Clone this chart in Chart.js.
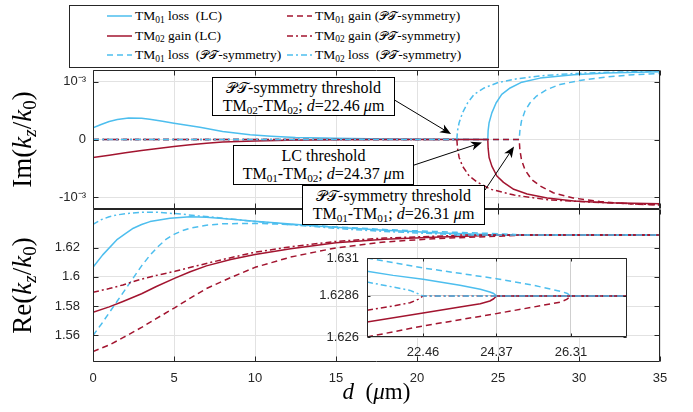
<!DOCTYPE html>
<html>
<head>
<meta charset="utf-8">
<script src="https://cdn.jsdelivr.net/npm/chart.js@4.4.1/dist/chart.umd.min.js"></script>
<style>
  html, body { margin:0; padding:0; background:#fff; }
  #wrap { position:relative; width:693px; height:412px; overflow:hidden; background:#fff; }
  #wrap canvas { position:absolute; left:0; top:0; }
  .serif { font-family:'Liberation Serif','Times New Roman',serif; color:#000; }
  #legend { position:absolute; left:69px; top:5px; width:430px; height:63px; border:1px solid #262626; box-sizing:border-box; background:#fff; }
  .li { position:absolute; height:18px; white-space:nowrap; font-size:13.5px; line-height:18px; }
  .li svg { position:absolute; left:0; top:0; }
  .li .lt { position:absolute; left:28px; top:0; }
  .ann { position:absolute; background:#fff; border:1px solid #000; box-sizing:border-box; font-size:16px; line-height:18px; text-align:center; display:flex; flex-direction:column; justify-content:center; white-space:nowrap; }
  sub { font-size:70%; vertical-align:baseline; position:relative; top:0.3em; line-height:0; }
  .pt { font-family:'DejaVu Serif','DejaVu Sans','Noto Sans','Liberation Serif',serif; font-size:92%; }
</style>
</head>
<body>
<div id="wrap">
  <canvas id="cRe" width="693" height="412"></canvas>
  <canvas id="cIn" width="693" height="412"></canvas>
  <canvas id="cIm" width="693" height="412"></canvas>
  <div id="legend"></div>
</div>
<script>
// ---------------- DATA ----------------
// x: d (µm)
const xTickStep = 5;
const xRange = [0, 35];

// Im(kz/k0) panel: [d, Im]
const imLossLC   = [[0,0.20e-3],[0.5,0.26e-3],[1,0.31e-3],[1.5,0.345e-3],[2.2,0.37e-3],[3,0.365e-3],[3.5,0.35e-3],[4.2,0.32e-3],[5,0.28e-3],[5.8,0.245e-3],[6.6,0.21e-3],[8,0.14e-3],[9.7,0.08e-3],[11,0.055e-3],[12.5,0.035e-3],[15,0.02e-3],[18,0.01e-3],[21,0.003e-3],[24.37,0],[24.39,0.15e-3],[24.45,0.29e-3],[24.62,0.46e-3],[24.88,0.63e-3],[25.23,0.78e-3],[25.75,0.89e-3],[26.47,0.99e-3],[27.6,1.06e-3],[29.66,1.12e-3],[31.72,1.15e-3],[35,1.17e-3]];
const imGainLC   = [[0,-0.31e-3],[1,-0.27e-3],[2,-0.23e-3],[3,-0.19e-3],[4,-0.155e-3],[5,-0.12e-3],[6,-0.09e-3],[7,-0.065e-3],[8,-0.045e-3],[10,-0.025e-3],[12,-0.012e-3],[15,-0.004e-3],[18,0],[24.37,0],[24.39,-0.15e-3],[24.45,-0.31e-3],[24.62,-0.46e-3],[24.93,-0.63e-3],[25.34,-0.74e-3],[25.97,-0.86e-3],[26.8,-0.94e-3],[28.03,-1.01e-3],[29.68,-1.06e-3],[31.74,-1.09e-3],[35,-1.11e-3]];
const imLossPT01 = [[0,0],[26.31,0],[26.35,0.15e-3],[26.45,0.32e-3],[26.66,0.49e-3],[26.97,0.63e-3],[27.38,0.75e-3],[28.0,0.86e-3],[28.82,0.95e-3],[30.05,1.02e-3],[31.7,1.08e-3],[33.35,1.12e-3],[35,1.14e-3]];
const imGainPT01 = [[0,0],[26.31,0],[26.35,-0.18e-3],[26.45,-0.35e-3],[26.66,-0.52e-3],[27.07,-0.69e-3],[27.59,-0.8e-3],[28.41,-0.92e-3],[29.64,-1.01e-3],[31.29,-1.07e-3],[32.94,-1.11e-3],[35,-1.13e-3]];
const imGainPT02 = [[0,0],[22.46,0],[22.5,-0.15e-3],[22.6,-0.31e-3],[22.81,-0.46e-3],[23.22,-0.63e-3],[23.74,-0.74e-3],[24.56,-0.86e-3],[26.0,-0.96e-3],[28.06,-1.04e-3],[30.73,-1.08e-3],[35,-1.13e-3]];
const imLossPT02 = [[0,0],[22.46,0],[22.5,0.15e-3],[22.6,0.29e-3],[22.81,0.46e-3],[23.12,0.63e-3],[23.53,0.78e-3],[24.15,0.89e-3],[24.97,0.98e-3],[26.2,1.05e-3],[27.65,1.10e-3],[29.7,1.14e-3],[31.76,1.16e-3],[35,1.18e-3]];
const imRange = [-1.2e-3, 1.2e-3];
const imTickValues = [-1e-3, 0, 1e-3];
const imTickLabels = ['-10\u207B\u00B3', '0', '10\u207B\u00B3'];

// Re(kz/k0) panel: [d, Re]
const reLossLC   = [[0,1.6065],[0.6,1.615],[1.46,1.6252],[2.0,1.6295],[2.49,1.6332],[3.0,1.6357],[3.52,1.6377],[4.75,1.64],[6,1.641],[7,1.6406],[8,1.6398],[10,1.638],[12,1.6362],[14,1.6346],[16,1.6331],[18,1.6318],[20,1.6307],[21,1.63016],[22.46,1.62965],[23.42,1.62927],[23.95,1.62902],[24.2,1.62885],[24.37,1.6286],[35,1.6286]];
const reGainLC   = [[0,1.5759],[1,1.5795],[1.85,1.5832],[3,1.5885],[3.91,1.5934],[5.06,1.5991],[6,1.6035],[7,1.6075],[8.5,1.6118],[10,1.6152],[12.2,1.6192],[15,1.6232],[18,1.6256],[21,1.62695],[22.46,1.62752],[23.42,1.6279],[23.95,1.62811],[24.2,1.62828],[24.37,1.6286],[35,1.6286]];
const reLossPT01 = [[0,1.56],[0.5,1.5675],[1,1.5755],[1.5,1.5835],[2,1.5915],[2.5,1.5995],[3,1.6075],[3.5,1.6145],[4,1.6205],[4.5,1.6255],[5,1.629],[5.5,1.6315],[6,1.6332],[7,1.6352],[8,1.6362],[10,1.6365],[12,1.6358],[14,1.6347],[16,1.6335],[18,1.6323],[20,1.6314],[21,1.631],[22.46,1.63037],[24.37,1.62969],[25.34,1.62927],[26.04,1.62889],[26.2,1.62877],[26.31,1.6286],[35,1.6286]];
const reGainPT01 = [[0,1.5491],[1,1.5535],[1.85,1.5585],[3,1.5655],[3.9,1.5715],[5.06,1.579],[6,1.5855],[7,1.592],[8.5,1.5995],[10,1.6065],[12.2,1.6135],[15,1.6198],[18,1.6238],[21,1.626],[22.46,1.6267],[24.37,1.62748],[25.34,1.6279],[26.04,1.62821],[26.2,1.62838],[26.31,1.6286],[35,1.6286]];
const reGainPT02 = [[0,1.5895],[1,1.592],[1.85,1.5945],[3,1.5985],[4,1.6012],[5.06,1.6038],[6.5,1.6078],[8,1.6118],[10,1.6168],[12.2,1.6205],[15,1.6242],[18,1.6265],[20,1.6273],[21,1.62769],[21.68,1.62796],[22.12,1.62817],[22.33,1.62838],[22.46,1.6286],[35,1.6286]];
const reLossPT02 = [[0,1.6359],[0.5,1.639],[1,1.641],[1.5,1.6423],[2.26,1.6434],[3,1.644],[3.91,1.6441],[5,1.6432],[5.56,1.6427],[6.5,1.6416],[7.6,1.6405],[10,1.6378],[12,1.6358],[14,1.634],[16,1.6323],[18,1.631],[20,1.63],[21,1.62948],[21.68,1.62916],[22.12,1.62895],[22.33,1.62874],[22.46,1.6286],[35,1.6286]];
const reRange = [1.5419, 1.6463];
const reTickValues = [1.56, 1.58, 1.6, 1.62];
const reTickLabels = ['1.56', '1.58', '1.6', '1.62'];

// Inset (zoom near thresholds): [d, Re]
const inLossLC   = [[21,1.63016],[21.68,1.6299],[22.46,1.62965],[23.42,1.62927],[23.95,1.62902],[24.2,1.62885],[24.3,1.62875],[24.37,1.6286],[27.77,1.6286]];
const inGainLC   = [[21,1.62695],[22.46,1.62752],[23.42,1.6279],[23.95,1.62811],[24.2,1.62828],[24.3,1.62842],[24.37,1.6286],[27.77,1.6286]];
const inLossPT01 = [[21,1.631],[22.46,1.63037],[24.37,1.62969],[25.34,1.62927],[26.04,1.62889],[26.2,1.62877],[26.31,1.6286],[27.77,1.6286]];
const inGainPT01 = [[21,1.626],[22.46,1.6267],[24.37,1.62748],[25.34,1.6279],[26.04,1.62821],[26.2,1.62838],[26.31,1.6286],[27.77,1.6286]];
const inGainPT02 = [[21,1.62769],[21.68,1.62796],[22.12,1.62817],[22.33,1.62838],[22.46,1.6286],[27.77,1.6286]];
const inLossPT02 = [[21,1.62948],[21.68,1.62916],[22.12,1.62895],[22.33,1.62874],[22.46,1.6286],[27.77,1.6286]];
const inXRange = [21.0, 27.77];
const inYRange = [1.626, 1.631];
const inXTickValues = [22.46, 24.37, 26.31];
const inXTickLabels = ['22.46', '24.37', '26.31'];
const inYTickValues = [1.626, 1.6286, 1.631];
const inYTickLabels = ['1.626', '1.6286', '1.631'];

// Legend labels (series order)
const seriesLabels = ['TM01 loss (LC)', 'TM02 gain (LC)', 'TM01 loss (PT-symmetry)', 'TM01 gain (PT-symmetry)', 'TM02 gain (PT-symmetry)', 'TM02 loss (PT-symmetry)'];
const PT = '<span class="pt">\uD835\uDCAB\uD835\uDCAF</span>';
const legendHtml = [
  'TM<sub>01</sub> loss&nbsp;&nbsp;(LC)',
  'TM<sub>02</sub> gain (LC)',
  'TM<sub>01</sub> loss&nbsp;&nbsp;(' + PT + '-symmetry)',
  'TM<sub>01</sub> gain (' + PT + '-symmetry)',
  'TM<sub>02</sub> gain (' + PT + '-symmetry)',
  'TM<sub>02</sub> loss&nbsp;&nbsp;(' + PT + '-symmetry)'
];

// Annotations: text lines, arrow tails / tips in data coords [d, Im]
const annLines = [
  [PT + '-symmetry threshold', 'TM<sub>02</sub>-TM<sub>02</sub>; <i>d</i>=22.46 <i>\u03BC</i>m'],
  ['LC threshold', 'TM<sub>01</sub>-TM<sub>02</sub>; <i>d</i>=24.37 <i>\u03BC</i>m'],
  [PT + '-symmetry threshold', 'TM<sub>01</sub>-TM<sub>01</sub>; <i>d</i>=26.31 <i>\u03BC</i>m']
];
const arrowTails = [[18.64, 0.677e-3], [19.77, -0.446e-3], [24.2, -0.872e-3]];
const arrowTips  = [[22.1, 0.095e-3], [24.01, -0.052e-3], [25.99, -0.121e-3]];

// ---------------- STYLE ----------------
Chart.defaults.font.family = "'Liberation Sans', Arial, Helvetica, sans-serif";
Chart.defaults.font.size = 13;
Chart.defaults.color = '#262626';
const BLUE = '#4DBEEE', RED = '#A2142F';
const GRID = '#e2e2e2', FRAME = '#262626';
const SOLID = [], DASH = [6, 4], DASHDOT = [6, 3, 2, 3];
const seriesStyle = [
  {c: BLUE, dash: SOLID, order: 5},
  {c: RED, dash: SOLID, order: 4},
  {c: BLUE, dash: DASH, order: 3},
  {c: RED, dash: DASH, order: 2},
  {c: RED, dash: DASHDOT, order: 1},
  {c: BLUE, dash: DASHDOT, order: 0}
];
const toXY = a => a.map(p => ({x: p[0], y: p[1]}));
function makeDatasets(list) {
  return list.map((arr, i) => ({
    label: seriesLabels[i], data: toXY(arr), showLine: true,
    borderColor: seriesStyle[i].c, backgroundColor: seriesStyle[i].c,
    borderWidth: 1.5, borderDash: seriesStyle[i].dash, order: seriesStyle[i].order,
    pointRadius: 0, pointHoverRadius: 0, fill: false, tension: 0,
    borderCapStyle: 'butt', borderJoinStyle: 'round'
  }));
}

function framePlugin(color, tick) {
  return {
    id: 'frame',
    afterDatasetsDraw(chart) {
      const {ctx, chartArea: a, scales} = chart;
      const L = Math.round(a.left) + 0.5, R = Math.round(a.right) - 0.5, T = Math.round(a.top) + 0.5, B = Math.round(a.bottom) - 0.5;
      ctx.save();
      ctx.strokeStyle = color; ctx.lineWidth = 1; ctx.setLineDash([]);
      ctx.beginPath();
      ctx.rect(L, T, R - L, B - T);
      scales.x.ticks.forEach(t => {
        const p = Math.round(scales.x.getPixelForValue(t.value)) + 0.5;
        ctx.moveTo(p, B); ctx.lineTo(p, B - tick); ctx.moveTo(p, T); ctx.lineTo(p, T + tick);
      });
      scales.y.ticks.forEach(t => {
        const p = Math.round(scales.y.getPixelForValue(t.value)) + 0.5;
        ctx.moveTo(L, p); ctx.lineTo(L + tick, p); ctx.moveTo(R, p); ctx.lineTo(R - tick, p);
      });
      ctx.stroke();
      ctx.restore();
    }
  };
}
const whiteBg = {
  id: 'whiteBg',
  beforeDraw(chart) {
    const {ctx, chartArea: a} = chart;
    ctx.save(); ctx.fillStyle = '#fff'; ctx.fillRect(a.left, a.top, a.width, a.height); ctx.restore();
  }
};

const SERIF = "'Liberation Serif', 'Times New Roman', serif";
function drawRich(ctx, parts, cx, cy, rot, size) {
  ctx.save();
  ctx.translate(cx, cy); ctx.rotate(rot);
  const fontOf = s => (s.indexOf('i') >= 0 ? 'italic ' : '') + (s.indexOf('s') >= 0 ? Math.round(size * 0.7) : size) + 'px ' + SERIF;
  let total = 0;
  const w = parts.map(p => { ctx.font = fontOf(p[1]); const m = ctx.measureText(p[0]).width; total += m; return m; });
  let x = -total / 2;
  ctx.fillStyle = '#000'; ctx.textBaseline = 'alphabetic'; ctx.textAlign = 'left';
  parts.forEach((p, i) => {
    ctx.font = fontOf(p[1]);
    ctx.fillText(p[0], x, size * 0.32 + (p[1].indexOf('s') >= 0 ? size * 0.2 : 0));
    x += w[i];
  });
  ctx.restore();
}
function titlePlugin(items) {
  return {
    id: 'richTitles',
    afterDraw(chart) { items.forEach(it => { const pos = it.pos(chart.chartArea); drawRich(chart.ctx, it.parts, pos[0], pos[1], it.rot, it.size); }); }
  };
}
function drawArrow(ctx, x1, y1, x2, y2) {
  const ang = Math.atan2(y2 - y1, x2 - x1), c = Math.cos(ang), s = Math.sin(ang);
  const L = 11, W = 4.5, N = 8;
  ctx.beginPath(); ctx.moveTo(x1, y1); ctx.lineTo(x2 - N * c, y2 - N * s); ctx.stroke();
  ctx.beginPath();
  ctx.moveTo(x2, y2);
  ctx.lineTo(x2 - L * c + W * s, y2 - L * s - W * c);
  ctx.lineTo(x2 - N * c, y2 - N * s);
  ctx.lineTo(x2 - L * c - W * s, y2 - L * s + W * c);
  ctx.closePath(); ctx.fill();
}
const arrowPlugin = {
  id: 'arrows',
  afterDraw(chart) {
    const {ctx, scales: {x, y}} = chart;
    ctx.save(); ctx.strokeStyle = '#000'; ctx.fillStyle = '#000'; ctx.lineWidth = 1; ctx.setLineDash([]);
    arrowTails.forEach((t, i) => {
      const h = arrowTips[i];
      drawArrow(ctx, x.getPixelForValue(t[0]), y.getPixelForValue(t[1]), x.getPixelForValue(h[0]), y.getPixelForValue(h[1]));
    });
    ctx.restore();
  }
};

const imTitle = [['Im(', 'r'], ['k', 'i'], ['z', 'si'], ['/', 'r'], ['k', 'i'], ['0', 'sr'], [')', 'r']];
const reTitle = [['Re(', 'r'], ['k', 'i'], ['z', 'si'], ['/', 'r'], ['k', 'i'], ['0', 'sr'], [')', 'r']];
const xTitle  = [['d', 'i'], ['\u2002(', 'r'], ['\u03BC', 'i'], ['m', 'r'], [')', 'r']];

const common = {responsive: false, animation: false, events: [], plugins: {legend: {display: false}, tooltip: {enabled: false}}};

// ---------------- Im chart (top) ----------------
new Chart(document.getElementById('cIm'), {
  type: 'scatter',
  data: {datasets: makeDatasets([imLossLC, imGainLC, imLossPT01, imGainPT01, imGainPT02, imLossPT02])},
  options: Object.assign({}, common, {
    layout: {padding: {left: 0, top: 70, right: 33, bottom: 203}},
    scales: {
      x: {type: 'linear', min: xRange[0], max: xRange[1], ticks: {display: false, stepSize: xTickStep},
          grid: {color: GRID, drawTicks: false}, border: {display: false}, afterFit: s => { s.height = 0; }},
      y: {type: 'linear', min: imRange[0], max: imRange[1],
          afterBuildTicks: s => { s.ticks = imTickValues.map(v => ({value: v})); },
          ticks: {padding: 7, callback: (v, i) => imTickLabels[i]},
          grid: {color: GRID, drawTicks: false}, border: {display: false}, afterFit: s => { s.width = 93; }}
    }
  }),
  plugins: [framePlugin(FRAME, 5), arrowPlugin,
    titlePlugin([{parts: imTitle, rot: -Math.PI / 2, size: 27, pos: a => [22, (a.top + a.bottom) / 2]}])]
});

// ---------------- Re chart (bottom) ----------------
new Chart(document.getElementById('cRe'), {
  type: 'scatter',
  data: {datasets: makeDatasets([reLossLC, reGainLC, reLossPT01, reGainPT01, reGainPT02, reLossPT02])},
  options: Object.assign({}, common, {
    layout: {padding: {left: 0, top: 209, right: 33, bottom: 0}},
    scales: {
      x: {type: 'linear', min: xRange[0], max: xRange[1], ticks: {stepSize: xTickStep, padding: 9},
          grid: {color: GRID, drawTicks: false}, border: {display: false}, afterFit: s => { s.height = 50; }},
      y: {type: 'linear', min: reRange[0], max: reRange[1],
          afterBuildTicks: s => { s.ticks = reTickValues.map(v => ({value: v})); },
          ticks: {padding: 13, callback: (v, i) => reTickLabels[i]},
          grid: {color: GRID, drawTicks: false}, border: {display: false}, afterFit: s => { s.width = 93; }}
    }
  }),
  plugins: [framePlugin(FRAME, 5),
    titlePlugin([
      {parts: reTitle, rot: -Math.PI / 2, size: 27, pos: a => [22, (a.top + a.bottom) / 2]},
      {parts: xTitle, rot: 0, size: 23, pos: a => [(a.left + a.right) / 2, 392]}
    ])]
});

// ---------------- Inset ----------------
new Chart(document.getElementById('cIn'), {
  type: 'scatter',
  data: {datasets: makeDatasets([inLossLC, inGainLC, inLossPT01, inGainPT01, inGainPT02, inLossPT02])},
  options: Object.assign({}, common, {
    layout: {padding: {left: 0, top: 258, right: 66, bottom: 0}},
    scales: {
      x: {type: 'linear', min: inXRange[0], max: inXRange[1],
          afterBuildTicks: s => { s.ticks = inXTickValues.map(v => ({value: v})); },
          ticks: {padding: 7.5, callback: (v, i) => inXTickLabels[i]},
          grid: {color: '#cfcfcf', drawTicks: false}, border: {display: false}, afterFit: s => { s.height = 75; }},
      y: {type: 'linear', min: inYRange[0], max: inYRange[1],
          afterBuildTicks: s => { s.ticks = inYTickValues.map(v => ({value: v})); },
          ticks: {padding: 8, callback: (v, i) => inYTickLabels[i]},
          grid: {color: '#cfcfcf', drawTicks: false}, border: {display: false}, afterFit: s => { s.width = 367; }}
    }
  }),
  plugins: [whiteBg, framePlugin(FRAME, 3)]
});

// ---------------- Legend & annotation boxes (HTML text) ----------------
const wrap = document.getElementById('wrap');
const legendCols = [107, 287], legendRows = [16, 35.5, 55];
legendHtml.forEach((html, i) => {
  const col = i < 3 ? 0 : 1, row = i % 3, st = seriesStyle[i];
  const d = document.createElement('div');
  d.className = 'li serif';
  d.style.left = legendCols[col] + 'px';
  d.style.top = (legendRows[row] - 9) + 'px';
  d.innerHTML = '<svg width="25" height="18"><line x1="0" y1="9" x2="25" y2="9" stroke="' + st.c + '" stroke-width="1.5" stroke-dasharray="' + (st.dash.length ? st.dash.join(' ') : 'none') + '"/></svg><span class="lt">' + html + '</span>';
  wrap.appendChild(d);
});
const annRects = [[212, 77, 183, 39], [233, 145, 181, 40], [302, 185, 183, 40]];
annLines.forEach((lines, i) => {
  const r = annRects[i];
  const d = document.createElement('div');
  d.className = 'ann serif';
  d.style.left = r[0] + 'px'; d.style.top = r[1] + 'px'; d.style.width = r[2] + 'px'; d.style.height = r[3] + 'px';
  d.innerHTML = lines.map(l => '<div>' + l + '</div>').join('');
  wrap.appendChild(d);
});
</script>
</body>
</html>
